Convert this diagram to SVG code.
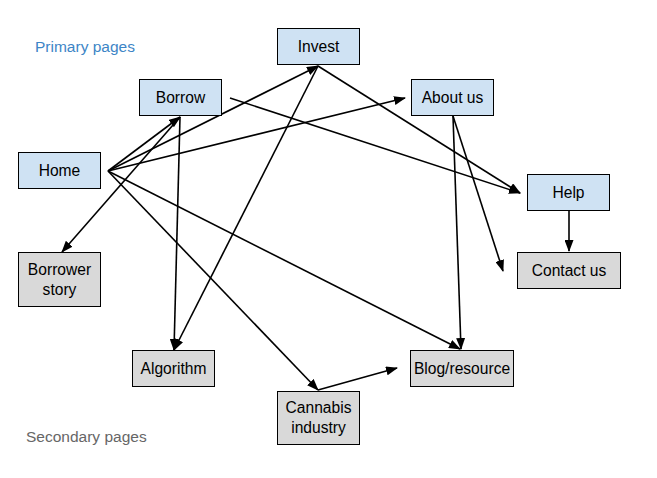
<svg xmlns="http://www.w3.org/2000/svg" width="657" height="478" viewBox="0 0 657 478">
<defs>
<marker id="ah" markerUnits="userSpaceOnUse" markerWidth="12" markerHeight="9" refX="11" refY="4.5" orient="auto">
<path d="M0,0 L12,4.5 L0,9 z" fill="#000"/>
</marker>
<style>
.p{fill:#cfe2f3;stroke:#000;stroke-width:1}
.s{fill:#d9d9d9;stroke:#000;stroke-width:1}
.t{font-family:"Liberation Sans",Arial,sans-serif;font-size:15.6px;fill:#000;text-anchor:middle}
.c line{stroke:#000;stroke-width:1.6;marker-end:url(#ah)}
.lbl{font-family:"Liberation Sans",Arial,sans-serif;font-size:15.5px}
</style>
</defs>
<rect width="657" height="478" fill="#fff"/>
<text class="lbl" x="35" y="51.5" fill="#3d85c6">Primary pages</text>
<text class="lbl" x="26" y="441.5" fill="#666">Secondary pages</text>
<g class="c" id="connectors">
<line x1="108" y1="171" x2="180" y2="117"/>
<line x1="108" y1="171" x2="318" y2="66"/>
<line x1="108" y1="171" x2="405" y2="98"/>
<line x1="108" y1="171" x2="460" y2="349"/>
<line x1="108" y1="171" x2="318" y2="390"/>
<line x1="180" y1="117" x2="62" y2="252"/>
<line x1="180" y1="117" x2="174" y2="350"/>
<line x1="318" y1="66" x2="174" y2="350"/>
<line x1="318" y1="66" x2="520" y2="193"/>
<line x1="230" y1="98" x2="520" y2="193"/>
<line x1="453" y1="116" x2="461" y2="349"/>
<line x1="453" y1="116" x2="503" y2="271"/>
<line x1="569" y1="211" x2="569" y2="251"/>
<line x1="318" y1="390" x2="397" y2="368"/>
</g>
<g id="invest"><rect class="p" x="277.5" y="28.5" width="82" height="36"/><text class="t" x="318.5" y="51.5">Invest</text></g>
<g id="borrow"><rect class="p" x="139.5" y="79.5" width="82" height="36"/><text class="t" x="180.5" y="102.5">Borrow</text></g>
<g id="home"><rect class="p" x="18.5" y="152.5" width="82" height="36"/><text class="t" x="59.5" y="175.5">Home</text></g>
<g id="about"><rect class="p" x="411.5" y="79.5" width="82" height="36"/><text class="t" x="452.5" y="102.5">About us</text></g>
<g id="help"><rect class="p" x="527.5" y="174.5" width="82" height="36"/><text class="t" x="568.5" y="197.5">Help</text></g>
<g id="contact"><rect class="s" x="517.5" y="252.5" width="103" height="36"/><text class="t" x="569" y="275.5">Contact us</text></g>
<g id="borrower-story"><rect class="s" x="18.5" y="252.5" width="82" height="54"/><text class="t" x="59.5" y="275">Borrower</text><text class="t" x="59.5" y="295">story</text></g>
<g id="algorithm"><rect class="s" x="132.5" y="350.5" width="82" height="36"/><text class="t" x="173.5" y="373.5">Algorithm</text></g>
<g id="blog"><rect class="s" x="410.5" y="350.5" width="103" height="36"/><text class="t" x="462" y="373.5">Blog/resource</text></g>
<g id="cannabis"><rect class="s" x="277.5" y="391.5" width="82" height="53"/><text class="t" x="318.5" y="413">Cannabis</text><text class="t" x="318.5" y="433">industry</text></g>
</svg>
